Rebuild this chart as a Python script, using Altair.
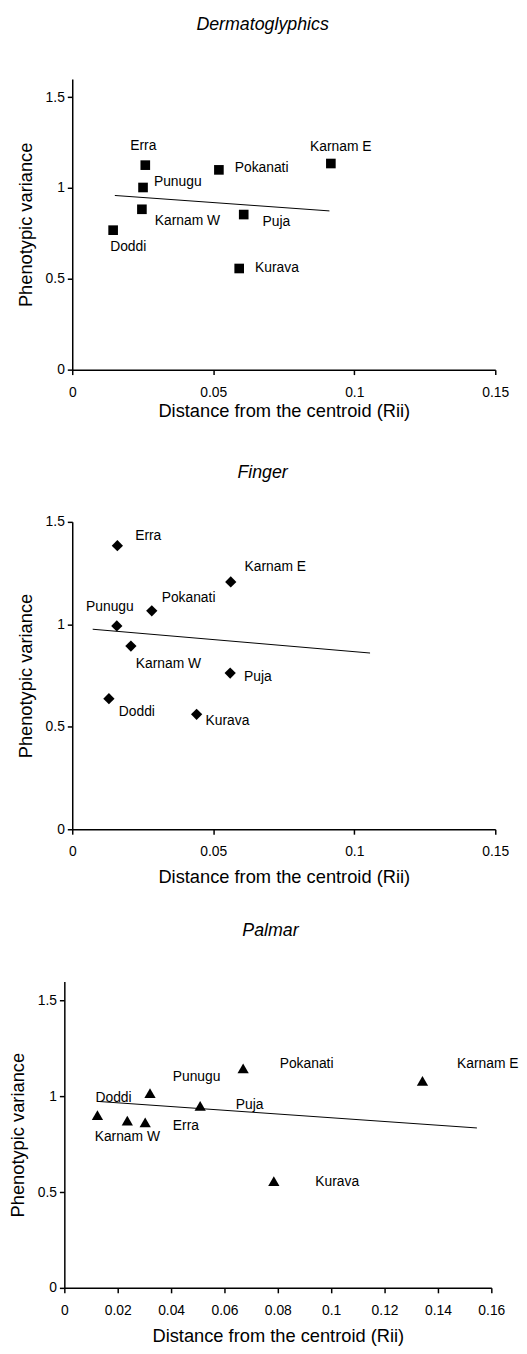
import altair as alt
import pandas as pd

populations = ["Erra", "Pokanati", "Karnam E", "Punugu", "Karnam W", "Puja", "Doddi", "Kurava"]

# Dermatoglyphics
derm_rii = [0.0259, 0.0520, 0.0917, 0.0251, 0.0247, 0.0608, 0.0145, 0.0592]
derm_var = [1.126, 1.100, 1.135, 1.003, 0.883, 0.854, 0.768, 0.557]
derm_line_rii = [0.0151, 0.0912]
derm_line_var = [0.959, 0.874]

# Finger
finger_rii = [0.0160, 0.0282, 0.0562, 0.0158, 0.0208, 0.0560, 0.0130, 0.0441]
finger_var = [1.384, 1.066, 1.207, 0.992, 0.894, 0.762, 0.637, 0.561]
finger_line_rii = [0.00725, 0.1056]
finger_line_var = [0.976, 0.860]

# Palmar
palmar_rii = [0.0303, 0.0670, 0.1342, 0.0321, 0.0236, 0.0509, 0.0124, 0.0785]
palmar_var = [0.864, 1.146, 1.081, 1.017, 0.873, 0.950, 0.902, 0.558]
palmar_line_rii = [0.0132, 0.1546]
palmar_line_var = [0.973, 0.835]

x_ticks_a = [0, 0.05, 0.1, 0.15]
x_ticks_b = [0, 0.02, 0.04, 0.06, 0.08, 0.1, 0.12, 0.14, 0.16]
y_ticks = [0, 0.5, 1, 1.5]

FONT = "Liberation Sans"

# label placement (pixel offsets from the marker) - styling only
lab_derm = {"Erra": (-2, -19, "center"), "Karnam E": (10, -17, "center"), "Pokanati": (16, -2, "left"),
            "Punugu": (11, -5, "left"), "Karnam W": (13, 12, "left"), "Puja": (19, 8, "left"),
            "Doddi": (-3, 17, "left"), "Kurava": (16, 0, "left")}
lab_finger = {"Erra": (18, -10, "left"), "Karnam E": (14, -15, "left"), "Pokanati": (10, -13, "left"),
              "Punugu": (-7, -19, "center"), "Karnam W": (5, 18, "left"), "Puja": (14, 4, "left"),
              "Doddi": (10, 13, "left"), "Kurava": (9, 7, "left")}
lab_palmar = {"Doddi": (-2, -17, "left"), "Karnam W": (0, 17, "center"), "Erra": (28, 4, "left"),
              "Punugu": (23, -16, "left"), "Puja": (36, -1, "left"), "Pokanati": (37, -4, "left"),
              "Kurava": (42, 1, "left"), "Karnam E": (35, -17, "left")}


def panel(title, xs, ys, lx, ly, shape, size, xdom, xticks, ydom, height, labels,
          title_offset, x_title_pad, xrange=None, yoffset=0, title_dx=0):
    df = pd.DataFrame({"name": populations, "rii": xs, "var": ys})
    ldf = pd.DataFrame({"rii": lx, "var": ly})
    xscale = alt.Scale(domain=xdom, nice=False, zero=False)
    if xrange is not None:
        xscale = alt.Scale(domain=xdom, nice=False, zero=False, range=xrange)
    yscale = alt.Scale(domain=ydom, nice=False)
    x = alt.X("rii:Q", scale=xscale,
              axis=alt.Axis(values=xticks, format="~g", title="Distance from the centroid (Rii)",
                            titlePadding=x_title_pad, labelPadding=11, labelFlush=False))
    y = alt.Y("var:Q", scale=yscale,
              axis=alt.Axis(values=y_ticks, format="~g", title="Phenotypic variance",
                            titlePadding=10, labelPadding=3, offset=yoffset, labelFlush=False))
    pts = alt.Chart(df).mark_point(shape=shape, size=size, filled=True, color="black", opacity=1).encode(
        x=x, y=y)
    line = alt.Chart(ldf).mark_line(color="black", strokeWidth=1).encode(
        x=alt.X("rii:Q", scale=xscale), y=alt.Y("var:Q", scale=yscale))
    layers = [line, pts]
    for n in populations:
        dx, dy, al = labels[n]
        layers.append(
            alt.Chart(df).transform_filter(alt.datum.name == n).mark_text(
                dx=dx, dy=dy, align=al, baseline="middle", font=FONT, fontSize=14, color="black"
            ).encode(x=alt.X("rii:Q", scale=xscale), y=alt.Y("var:Q", scale=yscale), text="name:N")
        )
    return alt.layer(*layers).properties(
        width=428, height=height,
        title=alt.TitleParams(title, fontStyle="italic", fontWeight="normal", fontSize=18, font=FONT,
                              offset=title_offset, color="black", baseline="middle", frame="bounds",
                              anchor="middle", dx=title_dx),
    )


p1 = panel("Dermatoglyphics", derm_rii, derm_var, derm_line_rii, derm_line_var, "square", 95,
           [0, 0.15], x_ticks_a, [0, 1.6], 294, lab_derm, 37, 2)
p2 = panel("Finger", finger_rii, finger_var, finger_line_rii, finger_line_var, "diamond", 130,
           [0, 0.15], x_ticks_a, [0, 1.5], 311, lab_finger, 24, 9)
p3 = panel("Palmar", palmar_rii, palmar_var, palmar_line_rii, palmar_line_var, "triangle-up", 130,
           [0, 0.16], x_ticks_b, [0, 1.6], 310, lab_palmar, 33, 9, xrange=[-8, 424], yoffset=8,
           title_dx=7)

chart = alt.vconcat(p1, p2, p3, spacing=154, bounds="flush").properties(
    padding={"left": 0, "top": 0, "right": 0, "bottom": 0}
).configure_view(stroke=None).configure_axis(
    grid=False, domainColor="black", domainWidth=1.5, tickColor="black", tickWidth=1.5, tickSize=5,
    labelColor="black", labelFont=FONT, labelFontSize=14, titleFont=FONT, titleFontSize=18.5,
    titleFontWeight="normal", titleColor="black"
)

chart.save("out.html", embed_options={"renderer": "svg", "actions": False})
